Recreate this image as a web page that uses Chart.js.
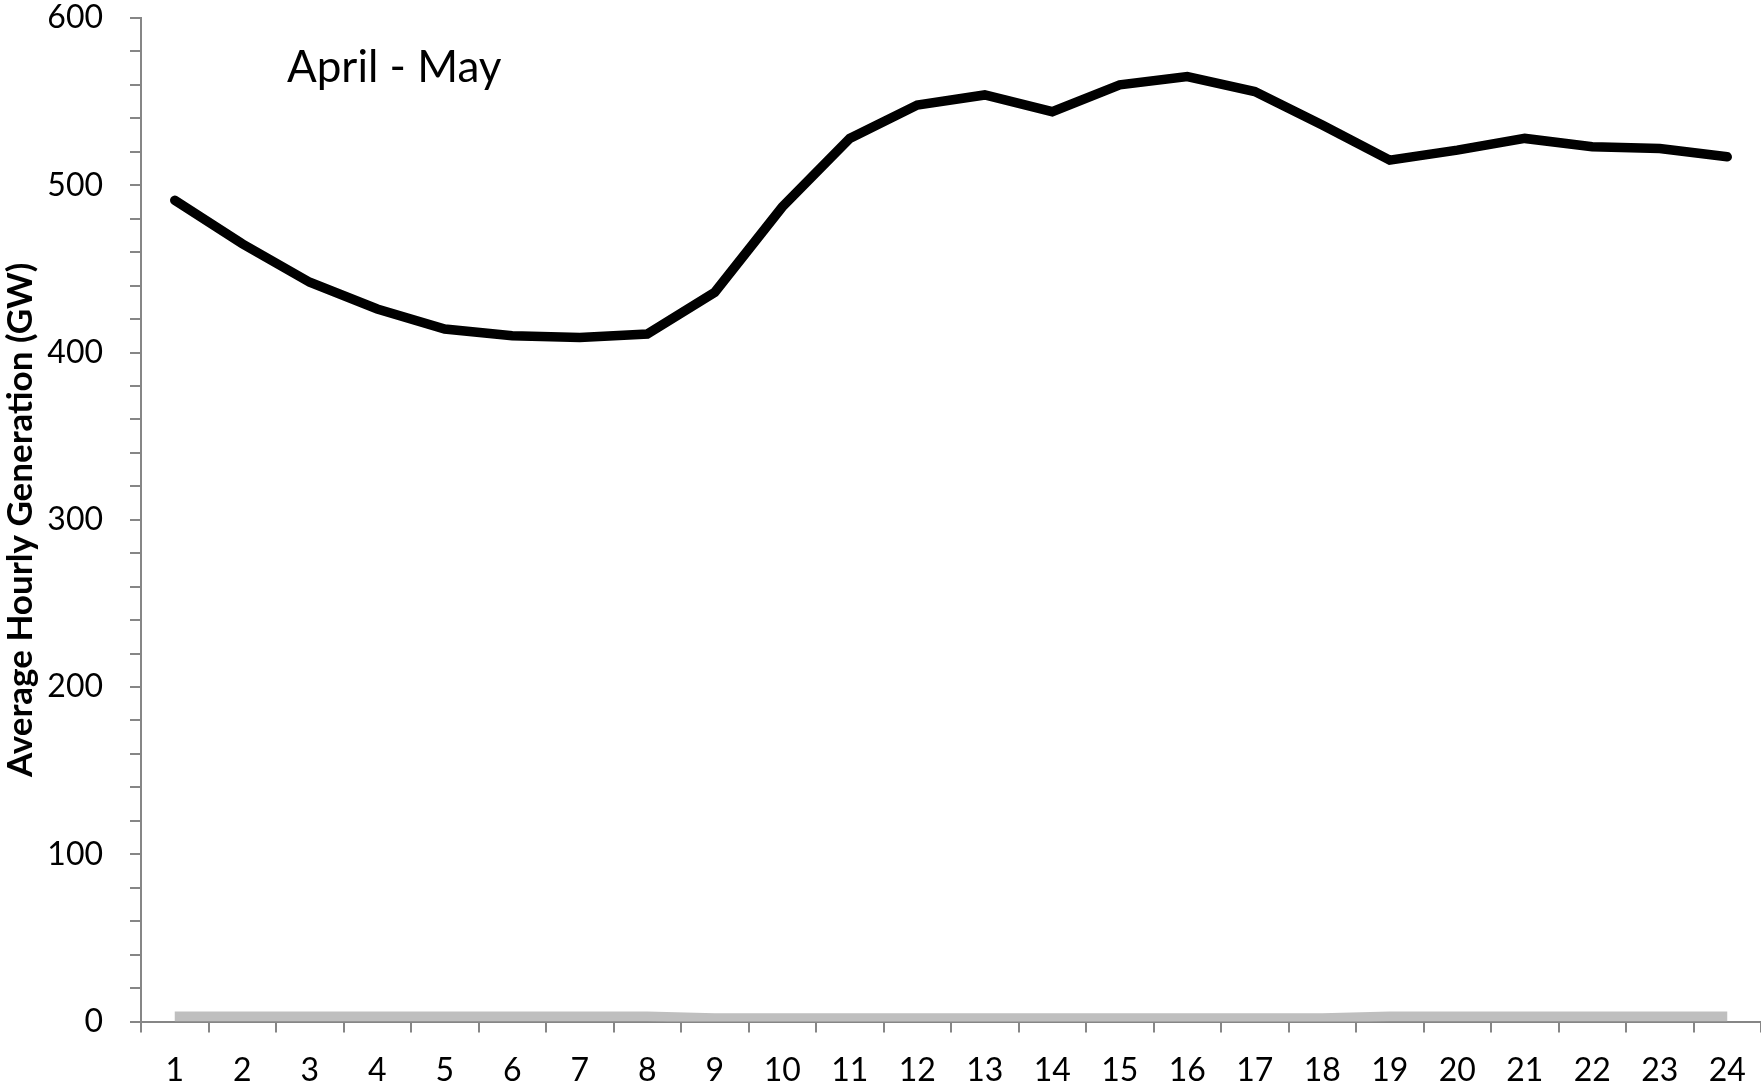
<!DOCTYPE html>
<html>
<head>
<meta charset="utf-8">
<script src="https://cdn.jsdelivr.net/npm/chart.js@4"></script>
<style>
  html, body { margin: 0; padding: 0; background: #ffffff; }
  #wrap { position: relative; width: 1761px; height: 1085px; }
  canvas { display: block; }
</style>
</head>
<body>
<div id="wrap"><canvas id="c" width="1761" height="1085"></canvas></div>
<script>
const hours = ['1','2','3','4','5','6','7','8','9','10','11','12','13','14','15','16','17','18','19','20','21','22','23','24'];
const totalGeneration = [491, 465, 442, 426, 414, 410, 409, 411, 436, 487, 528, 548, 554, 544, 560, 565, 556, 536, 515, 521, 528, 523, 522, 517];
const smallSeries = [3, 3, 3, 3, 3, 3, 3, 3, 2, 2, 2, 2, 2, 2, 2, 2, 2, 2, 3, 3, 3, 3, 3, 3];
const yTickLabels = [0, 100, 200, 300, 400, 500, 600];
const panelLabel = 'April - May';
const yTitle = 'Average Hourly Generation (GW)';

const FONT = 'Lato, "Open Sans", sans-serif';
const AXIS = '#868686';

const panelLabelPlugin = {
  id: 'panelLabel',
  afterDraw(chart) {
    const ctx = chart.ctx;
    const a = chart.chartArea;
    ctx.save();
    ctx.fillStyle = '#000000';
    ctx.font = '44px ' + FONT;
    ctx.textAlign = 'left';
    ctx.textBaseline = 'middle';
    ctx.fillText(panelLabel, a.left + 146, 68);
    ctx.restore();
  }
};

new Chart(document.getElementById('c'), {
  type: 'line',
  data: {
    labels: hours,
    datasets: [
      {
        data: smallSeries,
        borderColor: '#bfbfbf',
        borderWidth: 10,
        borderCapStyle: 'butt',
        pointRadius: 0,
        tension: 0,
        fill: false
      },
      {
        data: totalGeneration,
        borderColor: '#000000',
        borderWidth: 9.5,
        borderCapStyle: 'round',
        borderJoinStyle: 'miter',
        pointRadius: 0,
        tension: 0,
        fill: false
      }
    ]
  },
  options: {
    responsive: false,
    animation: false,
    devicePixelRatio: 1,
    layout: { padding: { top: 18, right: 0, bottom: 0, left: 0 } },
    plugins: { legend: { display: false }, tooltip: { enabled: false } },
    scales: {
      x: {
        type: 'category',
        offset: true,
        grid: { offset: true, drawOnChartArea: false, drawTicks: true, tickLength: 11, color: AXIS, lineWidth: 2 },
        border: { display: true, color: AXIS, width: 2 },
        ticks: { color: '#000000', font: { family: FONT, size: 32 }, padding: 19, maxRotation: 0, autoSkip: false },
        afterFit(s) { s.height = 63.5; s.paddingLeft = 0; s.paddingRight = 0; }
      },
      y: {
        min: 0,
        max: 600,
        grid: { drawOnChartArea: false, drawTicks: true, tickLength: 11, color: AXIS, lineWidth: 2 },
        border: { display: true, color: AXIS, width: 2 },
        ticks: {
          stepSize: 20,
          color: '#000000',
          font: { family: FONT, size: 32 },
          padding: 27,
          autoSkip: false,
          callback(v) { return yTickLabels.includes(v) ? String(v) : ''; }
        },
        title: {
          display: true,
          text: yTitle,
          color: '#000000',
          font: { family: FONT, size: 35, weight: 'bold' },
          padding: { top: 0, bottom: 0 }
        },
        afterFit(s) { s.width = 141; s.paddingTop = 0; s.paddingBottom = 0; }
      }
    }
  },
  plugins: [panelLabelPlugin]
});
</script>
</body>
</html>
